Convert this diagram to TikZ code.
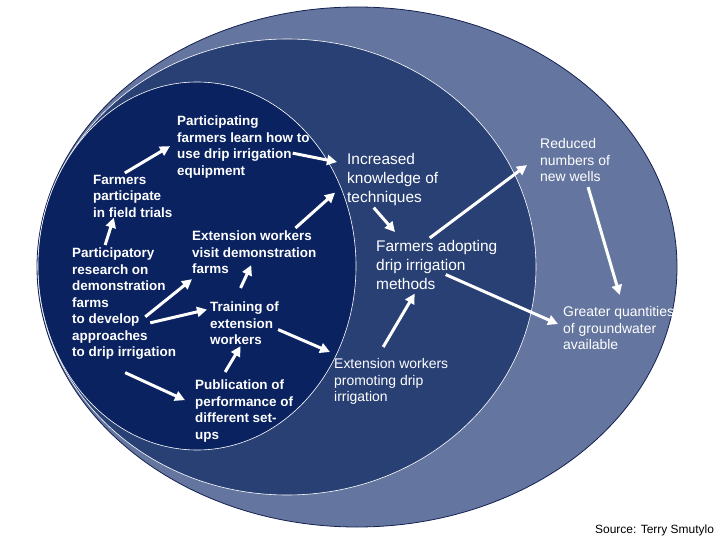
\documentclass[tikz,border=0pt]{standalone}
\usepackage{fontspec}
\setmainfont{Liberation Sans}
\usepackage{tikz}
\usetikzlibrary{arrows.meta,positioning}

\definecolor{outerblue}{RGB}{100,118,160}
\definecolor{midblue}{RGB}{41,64,117}
\definecolor{innerblue}{RGB}{10,34,96}
\definecolor{rimblue}{RGB}{20,32,80}

\begin{document}
\begin{tikzpicture}[
    x=1bp, y=-1bp,
    inbox/.style={anchor=north west, inner sep=0pt, align=left, text=white, font=\fontsize{13.5}{16.5}\selectfont\bfseries},
    midbox/.style={anchor=north west, inner sep=0pt, align=left, text=white, font=\fontsize{15.5}{19}\selectfont},
    outbox/.style={anchor=north west, inner sep=0pt, align=left, text=white, font=\fontsize{14}{16.8}\selectfont},
    srcbox/.style={anchor=north west, inner sep=0pt, font=\fontsize{12}{14}\selectfont},
    arrow/.style={-{Triangle[length=10bp,width=10bp]}, line width=3bp, white}
]
\useasboundingbox (0,0) rectangle (720,540);

% the three spheres of influence
\filldraw[fill=outerblue, draw=rimblue, line width=0.8bp] (357,267) ellipse [x radius=320, y radius=260];
\filldraw[fill=midblue, draw=white, line width=0.6bp] (287,267) ellipse [x radius=249, y radius=228];
\filldraw[fill=innerblue, draw=white, line width=0.6bp] (197,266) ellipse [x radius=159, y radius=184];

\node[inbox] (learn) at (177,116) {Participating\\farmers learn how to\\use drip irrigation\\equipment};
\node[inbox] (ftrials) at (93,175) {Farmers\\participate\\in field trials};
\node[inbox] (research) at (72,248) {Participatory\\research on\\demonstration\\farms\\to develop\\approaches\\to drip irrigation};
\node[inbox] (visit) at (192,231) {Extension workers\\visit demonstration\\farms};
\node[inbox] (training) at (210,302) {Training of\\extension\\workers};
\node[inbox] (publication) at (195,380) {Publication of\\performance of\\different set-\\ups};
\node[midbox] (knowledge) at (347,153) {Increased\\knowledge of\\techniques};
\node[midbox] (adopting) at (376,240) {Farmers adopting\\drip irrigation\\methods};
\node[outbox] (promoting) at (334,358) {Extension workers\\promoting drip\\irrigation};
\node[outbox] (wells) at (540,138) {Reduced\\numbers of\\new wells};
\node[outbox] (groundwater) at (563,306) {Greater quantities\\of groundwater\\available};
\node[srcbox] (source) at (595,525) {Source: Terry Smutylo};

\draw[arrow] ([xshift=-8bp,yshift=2bp]ftrials.north) -- ([xshift=-7bp,yshift=1bp]learn.west);
\draw[arrow] ([xshift=-19bp,yshift=3bp]research.north) -- ([xshift=-19bp]ftrials.south);
\draw[arrow] ([xshift=-17bp,yshift=-6bp]learn.east) -- ([xshift=-10bp,yshift=-9bp]knowledge.north west);
\draw[arrow] ([xshift=-21bp,yshift=3bp]visit.north east) -- ([xshift=-12bp,yshift=13bp]knowledge.south west);
\draw[arrow] ([xshift=-31bp,yshift=-13bp]research.east) -- ([yshift=-5bp]visit.south west);
\draw[arrow] ([xshift=-26bp,yshift=-19bp]research.east) -- ([xshift=-3bp,yshift=14bp]training.west);
\draw[arrow] ([xshift=-4bp,yshift=14bp]training.north) -- ([xshift=-3bp,yshift=9bp]visit.south);
\draw[arrow] ([xshift=-19bp,yshift=8bp]publication.north) -- ([xshift=-4bp,yshift=-1bp]training.south);
\draw[arrow] ([xshift=1bp,yshift=-13bp]research.south) -- ([xshift=-10bp,yshift=11bp]publication.west);
\draw[arrow] ([xshift=-1bp,yshift=-6bp]training.east) -- ([xshift=-4bp,yshift=6bp]promoting.north west);
\draw[arrow] ([xshift=-19bp,yshift=-2bp]knowledge.south) -- ([xshift=19bp,yshift=8bp]adopting.north west);
\draw[arrow] ([xshift=-7bp,yshift=2bp]adopting.north) -- ([xshift=-13bp,yshift=-5bp]wells.west);
\draw[arrow] ([xshift=-8bp,yshift=11bp]promoting.north) -- ([xshift=-22bp,yshift=-4bp]adopting.south);
\draw[arrow] ([xshift=9bp,yshift=15bp]adopting.south) -- ([xshift=-5bp,yshift=4bp]groundwater.west);
\draw[arrow] ([xshift=13bp,yshift=-5bp]wells.south) -- ([xshift=1bp,yshift=11bp]groundwater.north);
\end{tikzpicture}
\end{document}
